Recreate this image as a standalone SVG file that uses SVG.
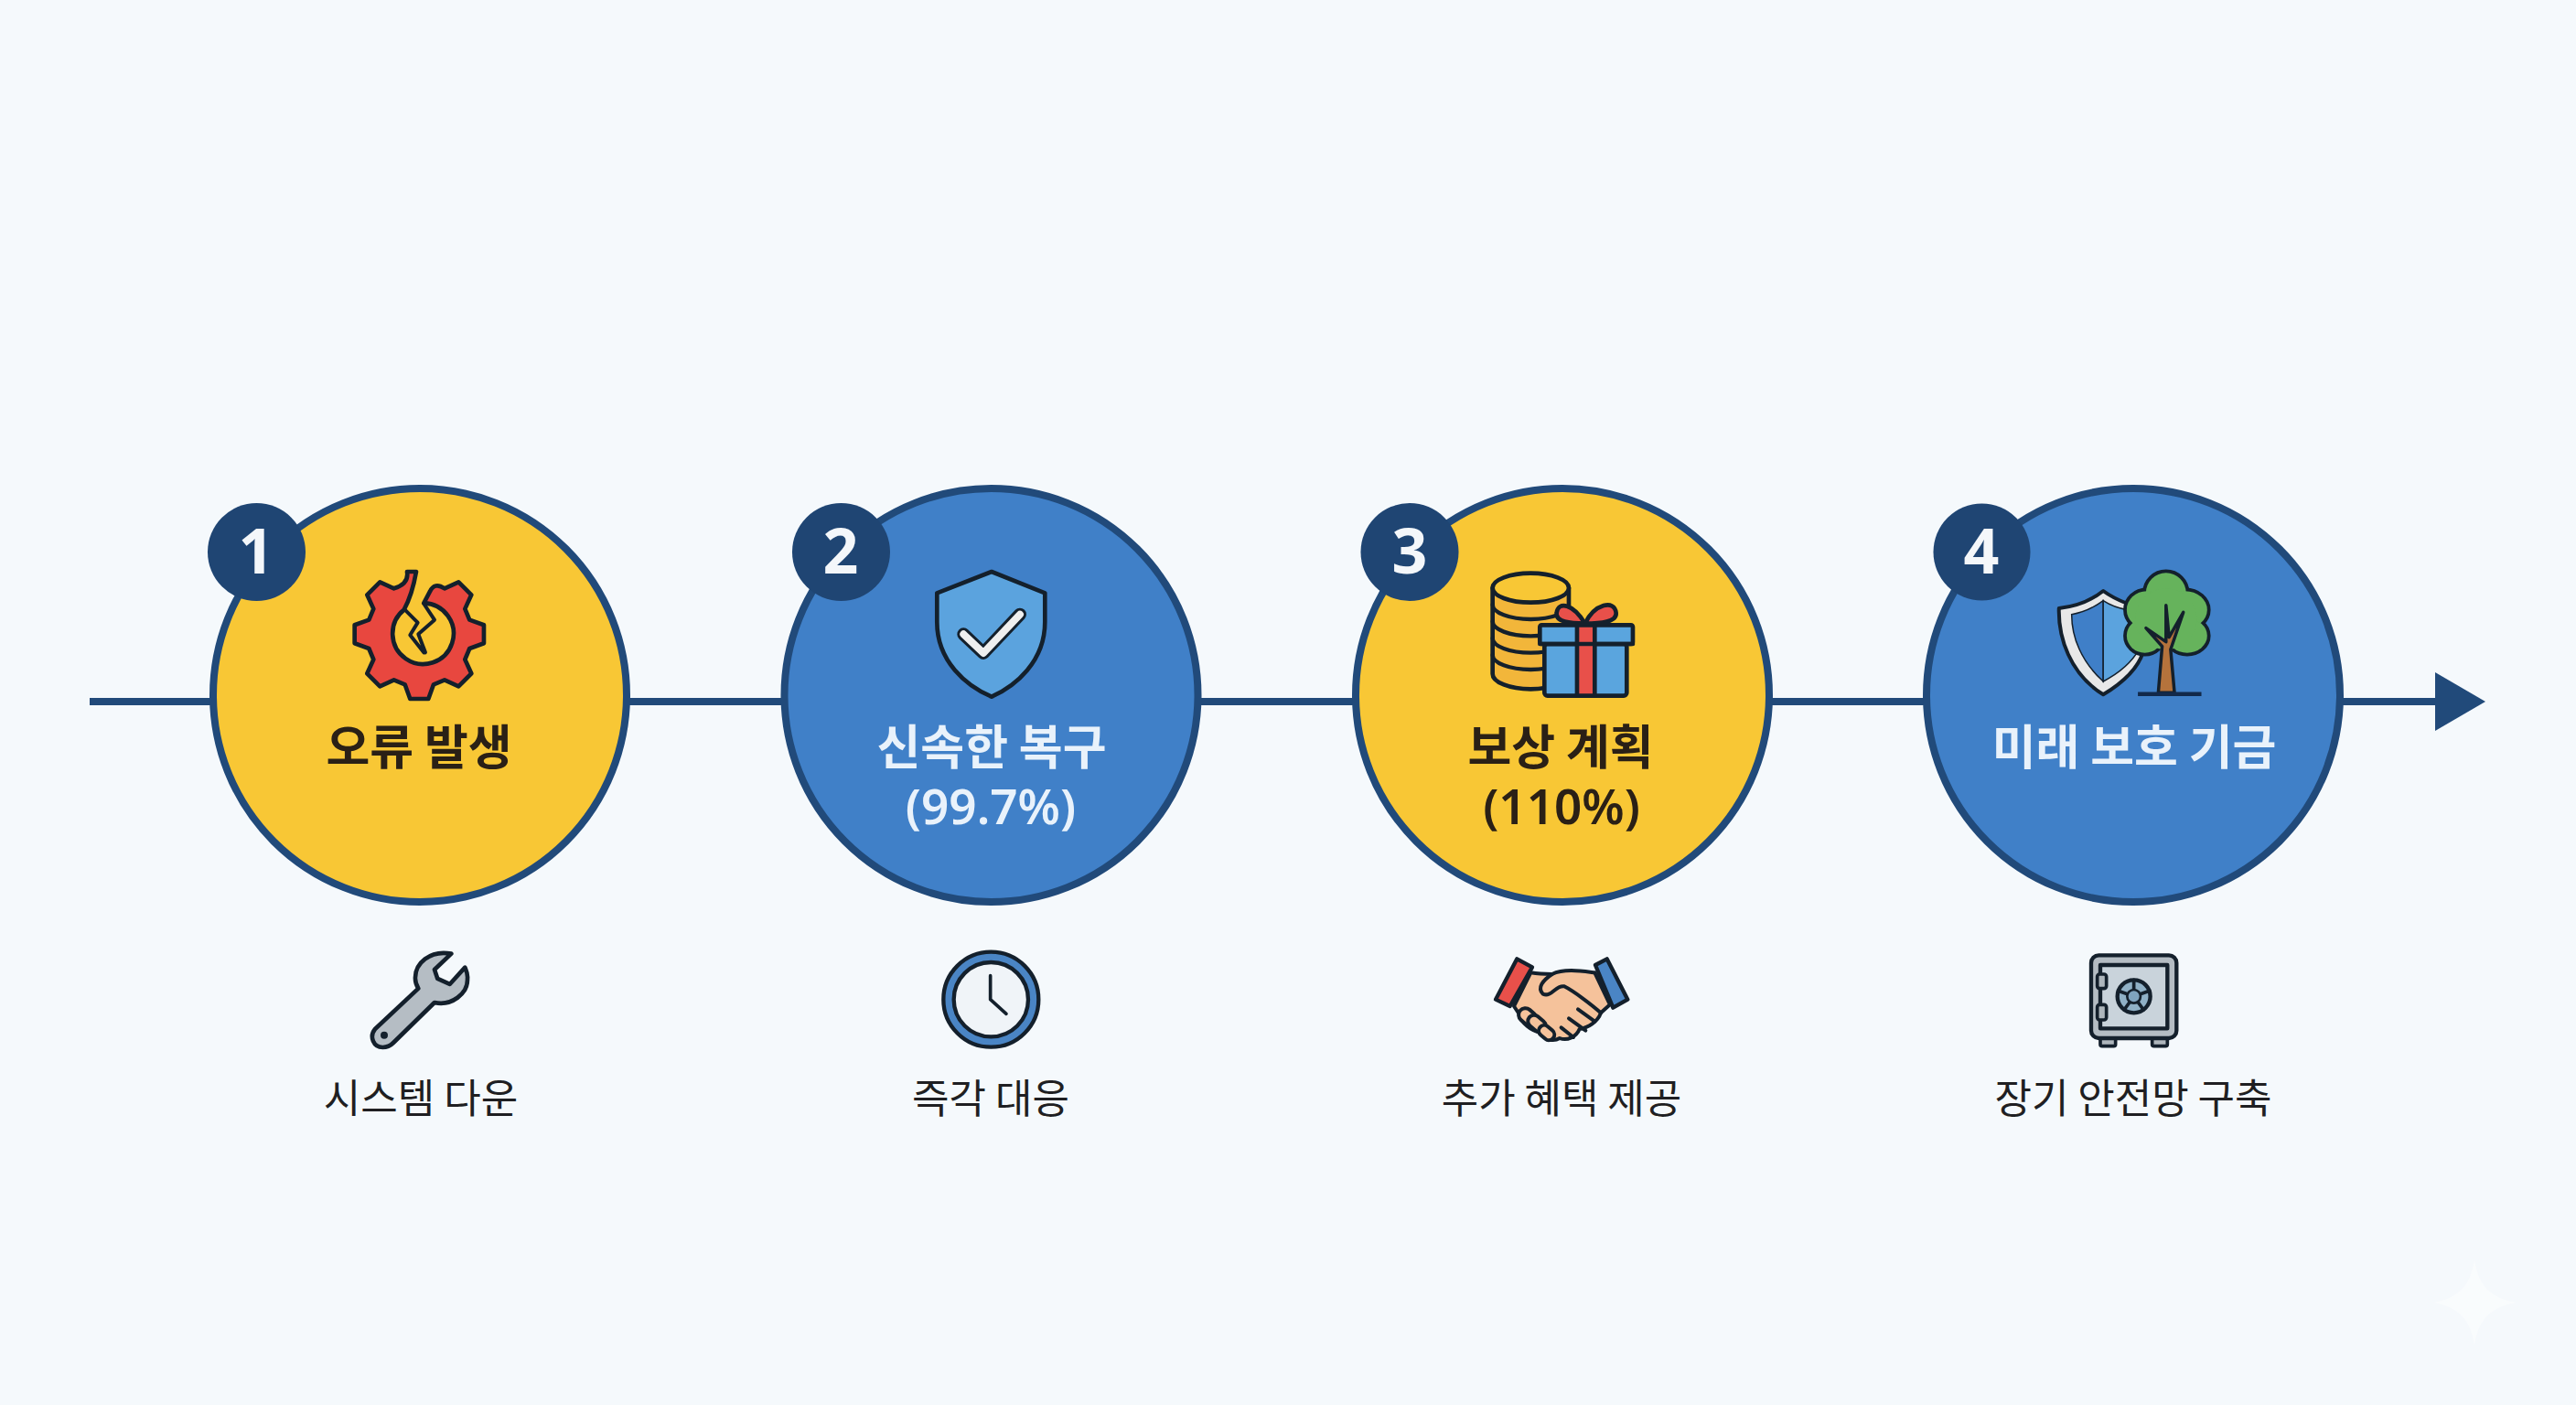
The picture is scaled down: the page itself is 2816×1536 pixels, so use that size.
<svg xmlns="http://www.w3.org/2000/svg" width="2816" height="1536" viewBox="0 0 2816 1536">
<defs>
<style>
.c{stroke:#214A7A;stroke-width:8}
.y{fill:#F8C735}.b{fill:#4080C8}
.badge{fill:#1F4573}
.num{font-family:"Noto Sans","Open Sans",sans-serif;font-weight:700;font-size:68px;fill:#F4F7FA;text-anchor:middle}
.t{font-family:"Noto Sans CJK KR","Noto Sans",sans-serif;font-weight:700;font-size:52px;text-anchor:middle}
.n{font-family:"Noto Sans","Noto Sans CJK KR",sans-serif;font-weight:600;font-size:53px;text-anchor:middle}
.dk{fill:#2A2016}.lt{fill:#E9F2FB}
.s{font-family:"Noto Sans CJK KR","Noto Sans",sans-serif;font-weight:400;font-size:44px;fill:#1F1F22;text-anchor:middle}
.ln{stroke:#214A7A;stroke-width:8;fill:none}
.i{stroke:#14202C;stroke-linejoin:round;stroke-linecap:round}
.ns{vector-effect:non-scaling-stroke}
</style>
<marker id="arrow" markerUnits="userSpaceOnUse" markerWidth="56" markerHeight="64" viewBox="0 0 55 64" refX="0" refY="32" orient="auto"><path d="M0 0L55 32L0 64Z" fill="#214A7A"/></marker>
</defs>
<rect width="2816" height="1536" fill="#F5F9FC"/>
<path id="sparkle" d="M2705 1377C2709 1405 2722 1419 2751 1424C2722 1429 2709 1443 2705 1471C2701 1443 2688 1429 2660 1424C2688 1419 2701 1405 2705 1377Z" fill="#FFFFFF" opacity=".45"/>
<g id="connectors">
<line class="ln" x1="98" y1="767" x2="232" y2="767"/>
<line class="ln" x1="686" y1="767" x2="857" y2="767"/>
<line class="ln" x1="1310" y1="767" x2="1481" y2="767"/>
<line class="ln" x1="1935" y1="767" x2="2104" y2="767"/>
<line class="ln" x1="2560" y1="767" x2="2662" y2="767" marker-end="url(#arrow)"/>
</g>
<g id="node1">
<circle class="c y" cx="459" cy="760" r="226"/>
<circle class="badge" cx="280.500" cy="603.500" r="53.500"/>
<text class="num" x="280" y="627">1</text>
<g transform="translate(200 510) scale(.3333)">
<path class="i" d="M765 345L735 345Q742 385 692 400L646 379L604 421L625 467L610 503L563 520L563 580L610 597L625 633L604 679L646 721L692 700L728 715L745 762L805 762L822 715L858 700L904 721L946 679L925 633L940 597L987 580L987 520L940 503L925 467L946 421L904 379L858 400Q825 378 810 410L790 448A100 100 0 1 1 725 470Q752 420 765 345Z" fill="#E8473F" stroke-width="14"/>
<path class="i" d="M728 470L770 512L745 553L790 610M790 450L825 503L772 550L795 610" fill="none" stroke-width="12"/>
</g>
<text class="t dk" x="458" y="836">오류 발생</text>
<g transform="translate(320 1020) scale(.3333)">
<path class="i" d="M520 68C450 55 400 100 402 150C402 165 408 175 412 182L270 315C250 340 265 375 295 375C310 375 320 370 330 360L465 228C520 240 575 200 573 150C575 135 570 125 565 113L515 168L475 150L465 120Z" fill="#B5BDC4" stroke-width="14"/>
<circle cx="300" cy="335" r="12" fill="#14202C"/>
</g>
<text class="s" x="460" y="1217">시스템 다운</text>
</g>
<g id="node2">
<circle class="c b" cx="1083.500" cy="760" r="226"/>
<circle class="badge" cx="919.500" cy="603.500" r="53.500"/>
<text class="num" x="919" y="627">2</text>
<g transform="translate(840 510) scale(.3333)">
<path class="i" d="M732 345L907 415L907 510C907 640 810 720 732 755C650 720 553 640 553 510L553 415Z" fill="#5BA3DE" stroke-width="14"/>
<path d="M640 550L705 612L825 485" fill="none" stroke="#14202C" stroke-width="42" stroke-linecap="round" stroke-linejoin="round"/>
<path d="M640 550L705 612L825 485" fill="none" stroke="#EFEFEF" stroke-width="24" stroke-linecap="round" stroke-linejoin="round"/>
</g>
<text class="t lt" x="1084" y="836">신속한 복구</text>
<text class="n lt" x="1083" y="901">(99.7%)</text>
<g transform="translate(960 1020) scale(.3333)">
<circle class="i" cx="370" cy="218" r="156" fill="#4A85C5" stroke-width="13"/>
<circle class="i" cx="370" cy="218" r="122" fill="#F0F4F8" stroke-width="13"/>
<path class="i" d="M368 140L368 218L420 265" fill="none" stroke-width="11"/>
</g>
<text class="s" x="1083" y="1217">즉각 대응</text>
</g>
<g id="node3">
<circle class="c y" cx="1708" cy="760" r="226"/>
<circle class="badge" cx="1541" cy="603.500" r="53.500"/>
<text class="num" x="1541" y="627">3</text>
<g transform="translate(1470 510) scale(.3333)">
<path class="i" d="M485 398L485 680A125 50 0 0 0 735 680L735 398Z" fill="#F2B63A" stroke-width="14"/>
<ellipse class="i" cx="610" cy="398" rx="125" ry="48" fill="#F8C735" stroke-width="14"/>
<path class="i" d="M485 453A125 48 0 0 0 735 453M485 508A125 48 0 0 0 735 508M485 563A125 48 0 0 0 735 563M485 618A125 48 0 0 0 735 618" fill="none" stroke-width="13"/>
<path class="i" d="M788 515C750 450 700 440 695 480C690 510 740 515 788 515Z" fill="#E8504A" stroke-width="14"/>
<path class="i" d="M788 515C820 450 885 435 890 480C893 510 840 515 788 515Z" fill="#E8504A" stroke-width="14"/>
<rect class="i" x="655" y="582" width="270" height="170" rx="10" fill="#5AA5DE" stroke-width="14"/>
<rect class="i" x="640" y="520" width="305" height="62" rx="6" fill="#5AA5DE" stroke-width="14"/>
<path class="i" d="M762 520H820V752H762Z" fill="#E8504A" stroke-width="14"/>
<path class="i" d="M640 582H945" fill="none" stroke-width="14"/>
</g>
<text class="t dk" x="1706" y="836">보상 계획</text>
<text class="n dk" x="1707" y="901">(110%)</text>
<g transform="translate(1540 1020) scale(.3333)">
<path class="i" d="M400 130C430 135 450 135 470 135C510 115 570 125 610 130L660 235L630 262C620 290 590 310 560 315C550 340 520 355 495 345C470 360 440 345 430 325C400 320 370 295 365 270L345 240Z" fill="#F5C29B" stroke-width="12"/>
<path class="i" d="M470 135C440 155 420 180 440 200C470 212 480 170 510 175C540 190 600 235 630 262M555 250L610 290M525 280L580 320M500 310L540 342" fill="none" stroke-width="12"/>
<g class="i" fill="#F5C29B" stroke-width="12">
<rect x="-32" y="-22" width="64" height="44" rx="22" transform="translate(390 275) rotate(40)"/>
<rect x="-32" y="-20" width="64" height="40" rx="20" transform="translate(420 297) rotate(40)"/>
<rect x="-28" y="-18" width="56" height="36" rx="18" transform="translate(452 327) rotate(40)"/>
</g>
<path class="i" d="M355 85L405 112L332 240L285 218Z" fill="#E8504A" stroke-width="13"/>
<path class="i" d="M612 105L650 85L718 218L670 245Z" fill="#4A85C5" stroke-width="13"/>
</g>
<text class="s" x="1707" y="1217">추가 혜택 제공</text>
</g>
<g id="node4">
<circle class="c b" cx="2332" cy="760" r="226"/>
<circle class="badge" cx="2166.500" cy="603.500" r="53"/>
<text class="num" x="2166" y="627">4</text>
<g transform="translate(2090 510) scale(.4209 .3333)">
<path class="i ns" d="M497 408C460 445 420 460 382 465C380 560 410 680 497 748C540 715 585 670 600 610L560 450C540 440 515 425 497 408Z" fill="#E8E8E8" stroke-width="4"/>
<path class="ns" d="M497 440C470 465 440 480 415 485C415 560 440 640 497 705Z" fill="#3F7FC8" stroke="#14202C" stroke-width="1.500"/>
<path class="ns" d="M497 440C515 455 535 465 560 470L590 600C570 645 535 680 497 705Z" fill="#5BA3DE" stroke="#14202C" stroke-width="1.500"/>
<g class="i" fill="#66B35C">
<ellipse class="ns" cx="660" cy="414" rx="55" ry="69" stroke-width="5"/><ellipse class="ns" cx="610" cy="470" rx="55" ry="65" stroke-width="5"/><ellipse class="ns" cx="710" cy="470" rx="60" ry="65" stroke-width="5"/><ellipse class="ns" cx="605" cy="555" rx="50" ry="60" stroke-width="5"/><ellipse class="ns" cx="715" cy="555" rx="55" ry="60" stroke-width="5"/>
</g>
<g fill="#66B35C"><ellipse cx="660" cy="414" rx="52" ry="65"/><ellipse cx="610" cy="470" rx="52" ry="61"/><ellipse cx="710" cy="470" rx="57" ry="61"/><ellipse cx="605" cy="555" rx="47" ry="56"/><ellipse cx="715" cy="555" rx="52" ry="56"/><ellipse cx="660" cy="500" rx="80" ry="100"/></g>
<path class="i ns" d="M640 742L650 590L608 530L660 575L660 455L668 560L705 478L672 600L682 742Z" fill="#B5733C" stroke-width="3.500"/>
<path class="ns" d="M587 746H752" stroke="#12294A" stroke-width="4.500" fill="none"/>
</g>
<text class="t lt" x="2333" y="836">미래 보호 기금</text>
<g transform="translate(2150 1020) scale(.3333)">
<rect class="i" x="438" y="345" width="50" height="26" rx="6" fill="#AEB6BC" stroke-width="11"/>
<rect class="i" x="608" y="345" width="50" height="26" rx="6" fill="#AEB6BC" stroke-width="11"/>
<rect class="i" x="408" y="73" width="280" height="272" rx="25" fill="#B4BCC3" stroke-width="13"/>
<rect class="i" x="438" y="105" width="220" height="208" fill="#C9D3DB" stroke-width="13"/>
<rect class="i" x="428" y="135" width="30" height="47" rx="8" fill="#AEB6BC" stroke-width="11"/>
<rect class="i" x="428" y="235" width="30" height="50" rx="8" fill="#AEB6BC" stroke-width="11"/>
<circle class="i" cx="548" cy="208" r="54" fill="#8FB0C6" stroke-width="13"/>
<path class="i" d="M548 154V208M497 190L548 208M580 252L548 208M516 252L548 208M599 190L548 208" fill="none" stroke-width="11"/>
<circle class="i" cx="548" cy="208" r="22" fill="#7FA3BE" stroke-width="8"/>
</g>
<text class="s" x="2332" y="1217">장기 안전망 구축</text>
</g>
</svg>
